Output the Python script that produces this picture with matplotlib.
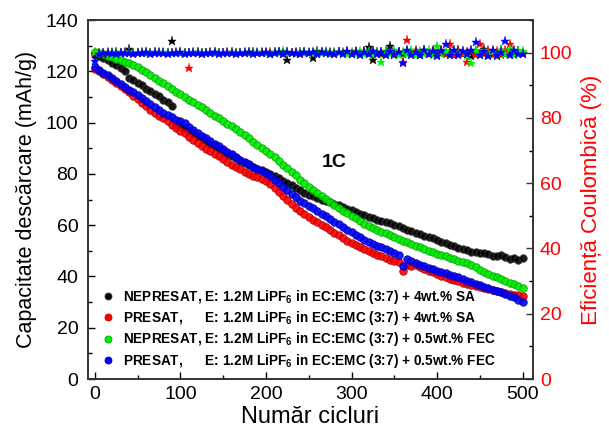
import matplotlib
matplotlib.use("Agg")
import matplotlib.pyplot as plt
from matplotlib.ticker import MultipleLocator
from matplotlib.lines import Line2D

plt.rcParams['font.family'] = ['Liberation Sans', 'DejaVu Sans']
plt.rcParams['mathtext.fontset'] = 'custom'
plt.rcParams['mathtext.rm'] = 'Liberation Sans'
plt.rcParams['mathtext.bf'] = 'Liberation Sans:bold'

# cicluri (din 5 in 5)
cicluri = list(range(0, 501, 5))

# capacitate descarcare (mAh/g)
cap_nepresat_sa = [
    126.5, 125.8, 125.0, 124.3, 123.2, 122.3, 121.2, 120.0, 117.4, 116.6,
    115.5, 114.6, 113.2, 112.4, 111.0, 110.2, 108.8, 108.0, 106.5, 99.6,
    98.7, 97.8, 96.7, 95.8, 94.8, 93.8, 92.7, 91.8, 90.7, 89.8,
    88.8, 87.8, 87.0, 86.0, 85.2, 84.3, 83.5, 82.8, 82.0, 81.5,
    80.9, 80.0, 79.2, 78.4, 77.4, 76.6, 75.6, 74.6, 73.6, 72.6,
    71.8, 71.2, 70.4, 69.9, 69.5, 69.0, 68.4, 67.7, 67.1, 66.4,
    65.8, 65.2, 64.5, 64.0, 63.3, 62.8, 62.2, 61.7, 61.2, 60.8,
    60.2, 59.6, 59.0, 58.3, 57.6, 56.9, 56.4, 55.9, 55.3, 54.8,
    54.3, 53.6, 53.0, 52.4, 51.8, 51.2, 50.6, 50.3, 49.7, 49.5,
    49.0, 49.3, 48.6, 48.0, 47.8, 48.2, 47.4, 46.8, 47.2, 46.6,
    47.3]
cap_presat_sa = [
    121.0, 120.0, 118.9, 117.8, 116.6, 115.5, 114.3, 113.1, 111.9, 110.5,
    109.2, 107.8, 106.3, 104.9, 103.7, 102.6, 101.6, 100.5, 99.2, 98.0,
    96.9, 95.8, 94.5, 93.3, 92.0, 90.8, 89.7, 88.9, 87.9, 86.8,
    85.7, 84.6, 83.6, 82.7, 81.8, 80.9, 80.1, 79.3, 78.6, 77.9,
    77.2, 75.9, 74.4, 72.9, 71.4, 69.9, 68.4, 66.8, 65.4, 64.3,
    63.3, 62.2, 61.1, 60.1, 59.1, 58.0, 57.0, 56.0, 55.0, 54.0,
    53.1, 52.2, 51.4, 50.6, 49.9, 49.2, 48.5, 47.8, 47.2, 46.6,
    46.0, 45.5, 42.0, 44.6, 44.0, 44.4, 43.7, 43.0, 42.3, 41.6,
    40.9, 40.3, 39.7, 39.1, 38.6, 38.1, 37.6, 37.1, 36.6, 36.2,
    35.8, 35.4, 35.0, 34.6, 34.2, 33.8, 33.5, 33.2, 32.9, 32.6,
    32.4]
cap_nepresat_fec = [
    127.5, 127.0, 126.6, 126.0, 125.5, 124.9, 124.4, 123.8, 123.2, 122.6,
    121.8, 120.7, 119.6, 118.5, 117.4, 116.4, 115.3, 114.3, 113.2, 112.1,
    111.0, 110.0, 108.9, 107.9, 106.9, 105.9, 104.8, 103.8, 102.7, 101.7,
    100.6, 99.6, 98.6, 97.4, 96.2, 95.0, 93.8, 92.6, 91.4, 90.2,
    89.0, 87.7, 86.4, 85.0, 83.6, 82.2, 80.8, 79.4, 77.8, 76.4,
    75.0, 73.8, 72.5, 71.3, 70.1, 68.9, 67.8, 66.7, 65.6, 64.6,
    63.6, 62.6, 61.6, 60.6, 59.7, 58.9, 58.2, 57.5, 56.8, 56.1,
    55.4, 54.7, 54.0, 53.4, 52.7, 52.0, 51.4, 50.8, 50.1, 49.5,
    48.9, 48.3, 47.8, 47.2, 46.7, 46.2, 45.7, 45.3, 44.6, 43.6,
    42.6, 41.7, 41.0, 40.2, 39.6, 39.0, 38.3, 37.6, 36.9, 36.2,
    35.6]
cap_presat_fec = [
    121.5, 120.5, 119.5, 118.5, 117.4, 116.3, 115.2, 114.0, 112.9, 111.8,
    110.8, 109.6, 108.4, 107.2, 106.0, 104.8, 103.8, 102.9, 102.0, 101.2,
    100.5, 99.8, 98.2, 97.0, 95.9, 94.9, 93.8, 92.8, 91.7, 90.7,
    89.7, 88.6, 87.6, 86.6, 85.6, 84.6, 83.7, 82.8, 81.9, 81.1,
    80.5, 79.1, 77.7, 76.3, 75.0, 73.6, 72.2, 70.9, 69.5, 68.5,
    67.5, 66.5, 65.4, 64.4, 63.4, 62.4, 61.4, 60.3, 59.3, 58.2,
    57.2, 56.2, 55.3, 54.4, 53.5, 52.7, 52.0, 51.3, 50.6, 49.8,
    49.0, 48.2, 44.0, 46.8, 46.1, 45.4, 44.4, 43.9, 43.4, 42.8,
    42.3, 41.8, 41.2, 40.7, 40.1, 39.6, 39.0, 38.4, 37.7, 37.1,
    36.5, 35.9, 35.4, 34.9, 34.4, 33.8, 33.2, 32.5, 31.8, 31.0,
    30.0]

# eficienta coulombica (%)
ce_nepresat_sa = [
    99.6, 99.8, 99.7, 99.9, 99.8, 100.1, 99.8, 99.9, 101.2, 99.8,
    99.9, 100.0, 99.8, 99.9, 100.1, 99.9, 99.8, 100.0, 103.5, 99.9,
    99.8, 100.0, 99.9, 99.8, 100.1, 99.9, 99.8, 100.0, 99.9, 99.8,
    100.0, 99.9, 100.2, 99.8, 99.9, 100.0, 99.8, 100.1, 99.9, 99.8,
    100.0, 99.7, 100.1, 100.3, 99.8, 97.8, 100.0, 99.9, 100.2, 99.8,
    100.0, 98.4, 100.4, 99.9, 100.1, 99.7, 100.0, 100.3, 99.8, 100.1,
    99.7, 100.2, 99.6, 100.4, 101.6, 97.6, 100.1, 99.5, 100.5, 101.9,
    99.4, 100.3, 99.7, 100.6, 99.5, 100.2, 99.4, 100.7, 99.6, 100.3,
    99.2, 100.8, 99.5, 100.4, 99.3, 100.9, 99.6, 100.2, 99.1, 100.6,
    99.7, 101.0, 99.4, 100.3, 99.0, 100.8, 99.5, 100.2, 99.6, 100.5,
    99.8]
ce_presat_sa = [
    99.8, 100.0, 99.9, 100.1, 99.8, 100.0, 99.9, 100.2, 99.8, 100.0,
    99.9, 100.1, 99.8, 100.0, 99.9, 100.2, 99.8, 100.0, 99.9, 100.1,
    99.8, 100.0, 95.4, 100.1, 99.9, 100.0, 99.8, 100.2, 99.9, 100.0,
    99.8, 100.1, 99.9, 100.0, 99.8, 100.2, 99.9, 100.0, 99.8, 100.1,
    99.9, 100.3, 99.8, 100.0, 99.7, 100.2, 99.9, 100.1, 99.7, 100.3,
    99.8, 100.0, 99.7, 100.2, 99.9, 100.1, 99.6, 100.3, 99.8, 100.2,
    99.6, 100.4, 99.7, 100.1, 99.5, 100.5, 99.6, 100.3, 99.4, 100.6,
    99.5, 100.2, 97.2, 104.0, 99.6, 100.7, 99.3, 100.4, 99.5, 100.8,
    99.2, 100.5, 99.6, 102.8, 99.3, 100.6, 99.5, 97.2, 100.4, 99.2,
    102.8, 99.6, 100.7, 99.3, 100.5, 99.4, 100.9, 102.8, 99.5, 100.6,
    99.7]
ce_nepresat_fec = [
    100.3, 99.9, 100.0, 99.8, 100.1, 99.9, 100.0, 99.8, 100.2, 99.9,
    100.0, 99.8, 100.1, 99.9, 100.0, 99.8, 100.2, 99.9, 100.0, 99.8,
    100.1, 99.9, 100.0, 99.8, 100.2, 99.9, 100.0, 99.8, 100.1, 99.9,
    100.0, 99.8, 100.2, 99.9, 100.0, 99.8, 100.1, 99.9, 100.3, 99.8,
    100.0, 99.7, 100.2, 99.9, 100.4, 99.8, 100.0, 99.6, 100.2, 99.9,
    100.3, 99.7, 100.1, 99.8, 100.4, 99.6, 100.2, 99.9, 100.3, 99.7,
    100.1, 99.5, 100.4, 99.7, 100.6, 99.4, 100.2, 97.2, 100.5, 99.5,
    100.7, 99.4, 100.3, 99.6, 100.8, 99.3, 100.5, 99.7, 100.9, 99.2,
    102.0, 99.5, 100.6, 99.3, 100.8, 99.6, 100.4, 99.1, 96.9, 100.7,
    99.4, 100.9, 99.5, 100.3, 99.2, 100.8, 99.6, 101.1, 99.3, 100.5,
    100.4]
ce_presat_fec = [
    97.3, 99.7, 99.9, 99.8, 100.0, 99.7, 99.9, 99.8, 100.0, 99.7,
    99.9, 99.8, 100.1, 99.7, 99.9, 99.8, 100.0, 99.7, 99.9, 99.8,
    100.1, 99.7, 99.9, 99.8, 100.0, 99.7, 99.9, 99.8, 100.1, 99.7,
    99.9, 99.8, 100.0, 99.7, 99.9, 99.8, 100.1, 99.7, 99.9, 99.8,
    100.2, 99.6, 99.9, 100.1, 99.7, 100.2, 99.8, 100.0, 99.6, 100.2,
    99.8, 100.1, 99.6, 100.3, 99.8, 100.0, 99.5, 100.2, 99.7, 100.4,
    99.6, 100.1, 99.4, 100.3, 99.7, 100.5, 99.5, 100.2, 99.3, 100.6,
    99.6, 100.3, 96.9, 100.7, 99.4, 100.2, 99.2, 100.8, 99.5, 100.4,
    99.1, 100.6, 102.5, 99.4, 100.9, 99.2, 100.5, 99.6, 100.8, 103.2,
    99.3, 100.6, 99.1, 100.9, 99.4, 100.3, 103.5, 99.2, 100.7, 99.5,
    99.6]

etichete = [
    r"NEPRESAT, E: 1.2M LiPF$_\mathbf{6}$ in EC:EMC (3:7) + 4wt.% SA",
    r"PRESAT,      E: 1.2M LiPF$_\mathbf{6}$ in EC:EMC (3:7) + 4wt.% SA",
    r"NEPRESAT, E: 1.2M LiPF$_\mathbf{6}$ in EC:EMC (3:7) + 0.5wt.% FEC",
    r"PRESAT,      E: 1.2M LiPF$_\mathbf{6}$ in EC:EMC (3:7) + 0.5wt.% FEC",
]
culori = ['black', 'red', '#00ee00', 'blue']
margini = ['#333333', '#aa0000', '#00a000', '#0000aa']

fig = plt.figure(figsize=(6.09, 4.36), dpi=100)
ax = fig.add_axes([0.1445, 0.1307, 0.7305, 0.8234])
ax2 = ax.twinx()

capacitati = [cap_nepresat_sa, cap_presat_sa, cap_nepresat_fec, cap_presat_fec]
eficiente = [ce_nepresat_sa, ce_presat_sa, ce_nepresat_fec, ce_presat_fec]

for cap, c, m in zip(capacitati, culori, margini):
    ax.plot(cicluri, cap, 'o', ms=5.4, mfc=c, mec=m, mew=0.6, alpha=0.9)
for ce, c in zip(eficiente, culori):
    ax2.plot(cicluri, ce, '*', ms=6.5, color=c, mew=0.3)

ax.set_xlim(-8, 512)
ax.set_ylim(0, 140)
ax2.set_ylim(0, 110)

ax.xaxis.set_major_locator(MultipleLocator(100))
ax.xaxis.set_minor_locator(MultipleLocator(50))
ax.yaxis.set_major_locator(MultipleLocator(20))
ax.yaxis.set_minor_locator(MultipleLocator(10))
ax2.yaxis.set_major_locator(MultipleLocator(20))
ax2.yaxis.set_minor_locator(MultipleLocator(10))

for a in (ax, ax2):
    a.tick_params(which='major', direction='in', length=5, width=1, labelsize=14, pad=7)
    a.tick_params(which='minor', direction='in', length=3, width=1)
    for s in a.spines.values():
        s.set_color('#333333')
        s.set_linewidth(1.2)
ax.tick_params(axis='x', pad=5)
ax.tick_params(axis='both', which='both', top=False, right=False)
ax2.tick_params(axis='y', colors='#333333', labelcolor='red', pad=5)

ax.set_xlabel("Număr cicluri", fontsize=17, labelpad=2)
ax.set_ylabel("Capacitate descărcare (mAh/g)", fontsize=15.5, labelpad=6)
ax2.set_ylabel("Eficiență Coulombică (%)", fontsize=16, color='red', labelpad=6)

ax.text(280, 84.5, "1C", fontsize=14, fontweight='bold', ha='center', va='center')

handles = [Line2D([], [], ls='none', marker='o', ms=5, mfc=c, mec=m, mew=0.6)
           for c, m in zip(culori, margini)]
leg = ax2.legend(handles, etichete, loc='lower left', bbox_to_anchor=(0.0, -0.008),
                 frameon=False, handletextpad=0.5, handlelength=1.2,
                 labelspacing=0.24, prop={'weight': 'bold', 'size': 9.8})

fig.savefig("out.png", dpi=100)
